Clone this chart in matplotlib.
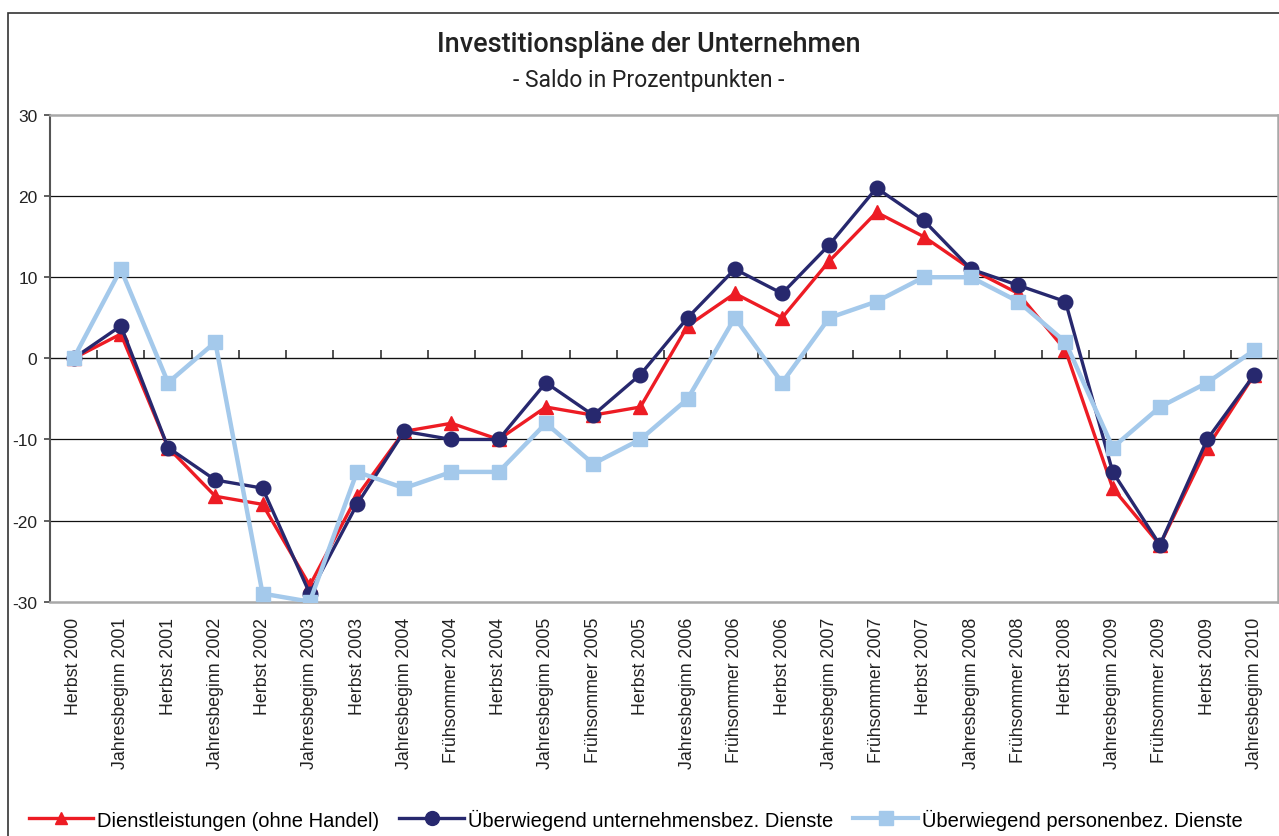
import matplotlib
matplotlib.use("Agg")
import matplotlib.pyplot as plt
from matplotlib.patches import Rectangle
from matplotlib.lines import Line2D
import numpy as np

categories = ["Herbst 2000", "Jahresbeginn 2001", "Herbst 2001", "Jahresbeginn 2002",
              "Herbst 2002", "Jahresbeginn 2003", "Herbst 2003", "Jahresbeginn 2004",
              "Frühsommer 2004", "Herbst 2004", "Jahresbeginn 2005", "Frühsommer 2005",
              "Herbst 2005", "Jahresbeginn 2006", "Frühsommer 2006", "Herbst 2006",
              "Jahresbeginn 2007", "Frühsommer 2007", "Herbst 2007", "Jahresbeginn 2008",
              "Frühsommer 2008", "Herbst 2008", "Jahresbeginn 2009", "Frühsommer 2009",
              "Herbst 2009", "Jahresbeginn 2010"]

dienstleistungen = [0, 3, -11, -17, -18, -28, -17, -9, -8, -10, -6, -7, -6,
                    4, 8, 5, 12, 18, 15, 11, 8, 1, -16, -23, -11, -2]
unternehmensbez = [0, 4, -11, -15, -16, -29, -18, -9, -10, -10, -3, -7, -2,
                   5, 11, 8, 14, 21, 17, 11, 9, 7, -14, -23, -10, -2]
personenbez = [0, 11, -3, 2, -29, -30, -14, -16, -14, -14, -8, -13, -10,
               -5, 5, -3, 5, 7, 10, 10, 7, 2, -11, -6, -3, 1]

series_labels = ["Dienstleistungen (ohne Handel)",
                 "Überwiegend unternehmensbez. Dienste",
                 "Überwiegend personenbez. Dienste"]
y_ticks = [-30, -20, -10, 0, 10, 20, 30]

plt.rcParams['font.family'] = ['Liberation Sans', 'DejaVu Sans']

W, H = 1279, 837
fig = plt.figure(figsize=(W / 100, H / 100), dpi=100)

# outer frame
fig.patches.append(Rectangle((8 / W, 0 - 0.1), 1.2, 1 - 14 / H + 0.1,
                             transform=fig.transFigure, fill=False,
                             edgecolor='#333333', linewidth=1.2))

ax = fig.add_axes([50 / W, (H - 602.7) / H, (1278 - 50) / W, (602.7 - 116) / H])

x = np.arange(len(categories))
red = '#ed1c24'
navy = '#27286e'
light = '#a4c9eb'

ax.plot(x, dienstleistungen, color=red, lw=2.4, marker='^', ms=9.5, zorder=3,
        label=series_labels[0])
ax.plot(x, unternehmensbez, color=navy, lw=2.4, marker='o', ms=10.5, zorder=4,
        label=series_labels[1])
ax.plot(x, personenbez, color=light, lw=3.2, marker='s', ms=10.5, zorder=5,
        label=series_labels[2])

ax.set_xlim(-0.5, len(categories) - 0.5)
ax.set_ylim(-30, 30)
ax.set_yticks(y_ticks)
ax.set_yticklabels([str(v) for v in y_ticks], fontsize=12.5, color='#222222')
for v in y_ticks[1:-1]:
    ax.axhline(v, color='#111111', lw=0.9, zorder=1)

ax.set_xticks(x)
ax.set_xticklabels(categories, rotation=90, fontsize=12.8, color='#222222')
ax.tick_params(axis='x', length=0, pad=11)
ax.tick_params(axis='y', length=4, width=1.2, color='#444444', pad=5)

for s in ['top', 'bottom', 'right']:
    ax.spines[s].set_color('#a8a8a8')
    ax.spines[s].set_linewidth(1.8)
ax.spines['left'].set_color('#555555')
ax.spines['left'].set_linewidth(1.5)

# category axis crossing at zero with tick marks between categories
sec = ax.secondary_xaxis(0.5)
sec.set_xticks(np.arange(len(categories) + 1) - 0.5)
sec.set_xticklabels([])
sec.tick_params(axis='x', direction='out', length=6, width=1.2, color='#333333')
sec.spines['bottom'].set_color('#111111')
sec.spines['bottom'].set_linewidth(1.2)

fig.text(0.507, 1 - 44 / H, "Investitionspläne der Unternehmen", ha='center', va='center',
         fontsize=19.5, fontweight='medium', color='#222222',
         family=['Roboto', 'Liberation Sans', 'DejaVu Sans'])
fig.text(0.507, 1 - 80 / H, "- Saldo in Prozentpunkten -", ha='center', va='center',
         fontsize=16.5, color='#222222',
         family=['Roboto', 'Liberation Sans', 'DejaVu Sans'])

handles = [Line2D([], [], color=red, lw=2.4, marker='^', ms=9),
           Line2D([], [], color=navy, lw=2.4, marker='o', ms=10),
           Line2D([], [], color=light, lw=3.0, marker='s', ms=10)]
fig.legend(handles, series_labels, loc='center', bbox_to_anchor=(0.497, 1 - 820 / H),
           ncol=3, frameon=False, handlelength=3.2, handletextpad=0.2,
           columnspacing=1.0, prop={'family': ['Liberation Sans', 'DejaVu Sans'],
                                    'size': 14.5})

fig.savefig("out.png", dpi=100)
